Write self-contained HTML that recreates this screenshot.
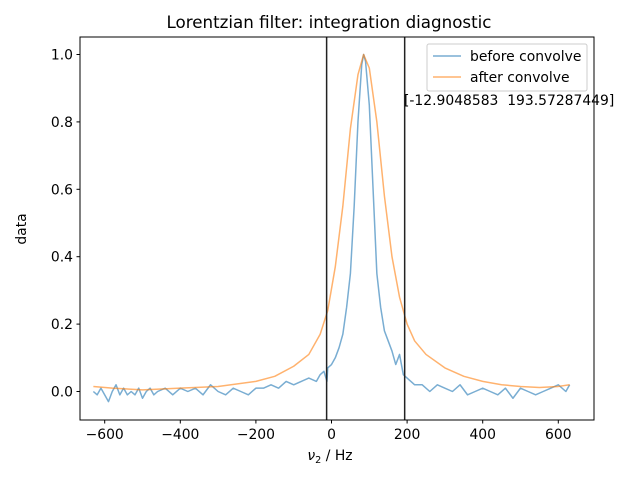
<!DOCTYPE html>
<html><head><meta charset="utf-8"><style>
body{margin:0;background:#fff;}
svg{display:block;font-family:"DejaVu Sans","Liberation Sans",sans-serif;}
</style></head><body>
<svg id="chart" width="640" height="480">
<text x="329" y="28" font-size="16.7" text-anchor="middle">Lorentzian filter: integration diagnostic</text>
<g id="plot"></g>
</svg>
<script>
const blueX=[-630,-620,-610,-600,-590,-580,-570,-560,-550,-540,-530,-520,-510,-500,-490,-480,-470,-460,-440,-420,-400,-380,-360,-340,-320,-300,-280,-260,-240,-220,-200,-180,-160,-140,-120,-100,-80,-60,-40,-30,-20,-12,-10,0,10,20,30,40,50,60,70,80,85,90,100,110,120,130,140,150,160,170,180,190,200,210,220,240,260,280,300,320,340,360,380,400,420,440,460,480,500,520,540,560,580,600,620,630];
const blueY=[0.00,-0.01,0.01,-0.01,-0.03,0.00,0.02,-0.01,0.01,-0.01,0.00,-0.01,0.01,-0.02,0.00,0.01,-0.01,0.00,0.01,-0.01,0.01,0.00,0.01,-0.01,0.02,0.00,-0.01,0.01,0.00,-0.01,0.01,0.01,0.02,0.01,0.03,0.02,0.03,0.04,0.03,0.05,0.06,0.03,0.07,0.08,0.10,0.13,0.17,0.25,0.35,0.55,0.80,0.97,1.00,0.98,0.85,0.60,0.35,0.25,0.18,0.15,0.12,0.08,0.11,0.05,0.04,0.03,0.02,0.02,0.00,0.02,0.01,0.00,0.02,-0.01,0.00,0.01,0.00,-0.01,0.01,-0.02,0.01,0.00,-0.01,0.00,0.01,0.02,0.00,0.02];
const orangeX=[-630,-580,-500,-400,-300,-200,-150,-100,-60,-30,-10,10,30,50,70,85,100,120,140,160,180,200,220,250,300,350,400,450,500,550,600,630];
const orangeY=[0.015,0.01,0.005,0.01,0.015,0.03,0.045,0.075,0.11,0.17,0.24,0.37,0.55,0.78,0.94,1.0,0.96,0.8,0.58,0.4,0.28,0.2,0.15,0.11,0.07,0.045,0.03,0.02,0.015,0.012,0.015,0.02];
const vlines=[-12.9048583,193.57287449];
const xTicks=[-600,-400,-200,0,200,400,600];
const xTickLabels=["\u2212600","\u2212400","\u2212200","0","200","400","600"];
const yTicks=[0,0.2,0.4,0.6,0.8,1.0];
const yTickLabels=["0.0","0.2","0.4","0.6","0.8","1.0"];

const L=80,R=594,T=37,B=420;
const sx=v=>331.5+v*0.378;
const sy=v=>391.5-v*337;
const NS="http://www.w3.org/2000/svg";
const g=document.getElementById('plot');
function mk(t,a,p){const e=document.createElementNS(NS,t);for(const k in a)e.setAttribute(k,a[k]);(p||g).appendChild(e);return e;}

function line(xs,ys,color,name){
  const p=mk('polyline',{points:xs.map((x,i)=>sx(x)+','+sy(ys[i])).join(' '),fill:'none',stroke:color,'stroke-width':1.5,'stroke-opacity':0.6,'stroke-linejoin':'round'});
  
  
}
line(blueX,blueY,'#1f77b4','before-convolve-line');
line(orangeX,orangeY,'#ff7f0e','after-convolve-line');
vlines.forEach((v,i)=>{
  const l=mk('line',{x1:sx(v),x2:sx(v),y1:T,y2:B,stroke:'#222','stroke-width':1.5});
  
  
});
const fr=mk('rect',{x:L,y:T,width:R-L,height:B-T,fill:'none',stroke:'#000','stroke-width':1});


xTicks.forEach((v,i)=>{
  mk('line',{x1:sx(v),x2:sx(v),y1:B,y2:B+3.5,stroke:'#000'});
  const t=mk('text',{x:sx(v),y:B+19,'font-size':13.9,'text-anchor':'middle'});
  t.textContent=xTickLabels[i];
  
  
});
yTicks.forEach((v,i)=>{
  mk('line',{x1:L-3.5,x2:L,y1:sy(v),y2:sy(v),stroke:'#000'});
  const t=mk('text',{x:L-7,y:sy(v)+5,'font-size':13.9,'text-anchor':'end'});
  t.textContent=yTickLabels[i];
  
  
});
</script>
<div style="position:absolute;left:0;top:0;width:640px;height:480px;pointer-events:none;">
<svg width="640" height="480" style="font-family:'DejaVu Sans','Liberation Sans',sans-serif;">
<text x="330" y="460" font-size="13.9" text-anchor="middle"><tspan font-style="italic">ν</tspan><tspan font-size="9.7" dy="3">2</tspan><tspan dy="-3"> / Hz</tspan></text>
<text transform="translate(26,229) rotate(-90)" font-size="13.9" text-anchor="middle">data</text>
<g>
<rect x="427" y="44" width="160" height="47" rx="2" fill="#fff" fill-opacity="0.8" stroke="#ccc"/>
<line x1="433" x2="461" y1="56" y2="56" stroke="#1f77b4" stroke-opacity="0.6" stroke-width="1.5"/>
<text x="470" y="61" font-size="13.9">before convolve</text>
<line x1="433" x2="461" y1="77" y2="77" stroke="#ff7f0e" stroke-opacity="0.6" stroke-width="1.5"/>
<text x="470" y="82" font-size="13.9">after convolve</text>
</g>
<text x="404" y="105" font-size="13.9" style="white-space:pre">[-12.9048583  193.57287449]</text>
</svg></div>
</body></html>
